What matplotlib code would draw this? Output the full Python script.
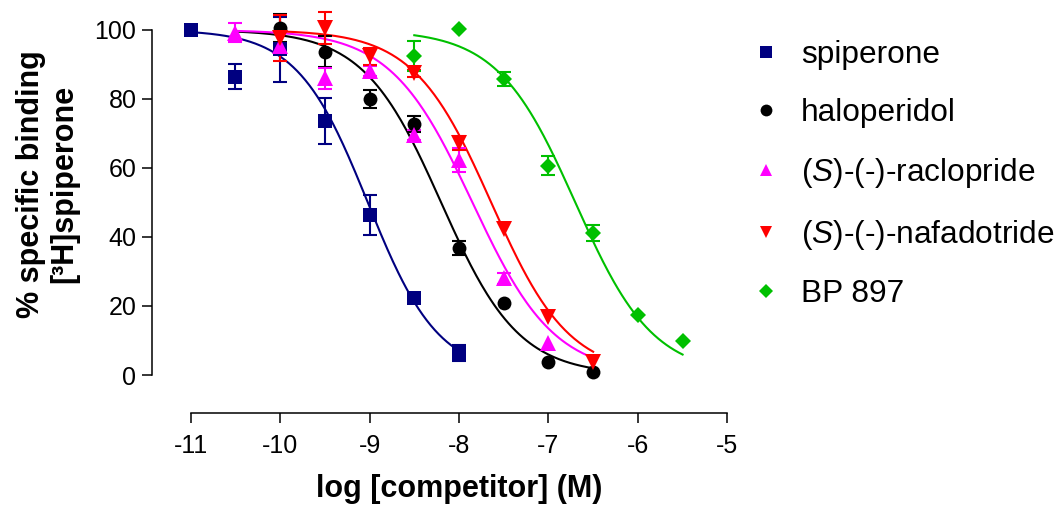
import numpy as np
import matplotlib
matplotlib.use("Agg")
import matplotlib.pyplot as plt
from matplotlib.lines import Line2D

plt.rcParams["font.family"] = ["Liberation Sans", "DejaVu Sans"]
plt.rcParams["mathtext.fontset"] = "custom"
plt.rcParams["mathtext.rm"] = "Liberation Sans"
plt.rcParams["mathtext.it"] = "Liberation Sans:italic"
plt.rcParams["axes.unicode_minus"] = False

# ---- data (log M, % specific binding, SEM) ----
names = ["spiperone", "haloperidol", r"($\mathit{S}$)-(-)-raclopride",
         r"($\mathit{S}$)-(-)-nafadotride", "BP 897"]
colors = ["#000080", "#000000", "#FF00FF", "#FF0000", "#00C000"]
markers = ["s", "o", "^", "v", "D"]
msizes = [9.5, 10, 11, 11, 8]

spip_x = [-11, -10.5, -10, -9.5, -9, -8.5, -8]
spip_y = [100, 86.4, 94.4, 73.6, 46.4, 22.4, 6.3]
spip_e = [0, 3.6, 9.4, 6.8, 5.8, 0, 2.3]

halo_x = [-10, -9.5, -9, -8.5, -8, -7.5, -7, -6.5]
halo_y = [100.5, 93.7, 79.9, 72.8, 36.7, 21, 3.9, 0.8]
halo_e = [4, 4.5, 2.6, 2.3, 2, 0, 0, 0]

racl_x = [-10.5, -10, -9.5, -9, -8.5, -8, -7.5, -7]
racl_y = [99.2, 95.2, 86, 88, 69.6, 62.3, 28, 9.2]
racl_e = [2.8, 0, 3, 1.5, 1.5, 3.6, 1.5, 0]

nafa_x = [-10, -9.5, -9, -8.5, -8, -7.5, -7, -6.5]
nafa_y = [97.7, 100.6, 92.3, 87.4, 67.2, 42.2, 16.9, 3.9]
nafa_e = [6.7, 4.7, 2.5, 1, 2, 0, 0, 0]

bp_x = [-8.5, -8, -7.5, -7, -6.5, -6, -5.5]
bp_y = [92.5, 100.2, 85.7, 60.7, 41.1, 17.4, 9.9]
bp_e = [4.3, 0, 2, 2.8, 2.4, 0, 0]

# one-site competition fits (logIC50, Hill slope) and the x-range of each fitted curve
log_ic50 = [-9.02, -8.2, -7.85, -7.64, -6.70]
hill = [1.1, 1.0, 0.95, 1.0, 1.0]
fit_start = [-11, -10.5, -10.5, -10, -8.5]
fit_end = [-8, -6.5, -6.5, -6.5, -5.5]

xs = [spip_x, halo_x, racl_x, nafa_x, bp_x]
ys = [spip_y, halo_y, racl_y, nafa_y, bp_y]
es = [spip_e, halo_e, racl_e, nafa_e, bp_e]

fig = plt.figure(figsize=(10.62, 5.08), dpi=100)
ax = fig.add_axes([151.7 / 1062, (508 - 413) / 508, (727.3 - 151.7) / 1062, 408 / 508])

for i in range(5):
    xx = np.linspace(fit_start[i], fit_end[i], 200)
    yy = 100 / (1 + 10 ** ((xx - log_ic50[i]) * hill[i]))
    ax.plot(xx, yy, color=colors[i], lw=1.5, zorder=2)
    # only draw bars where there is an SEM
    has_e = [j for j in range(len(es[i])) if es[i][j] > 0]
    ax.errorbar([xs[i][j] for j in has_e], [ys[i][j] for j in has_e],
                yerr=[es[i][j] for j in has_e], fmt="none", ecolor=colors[i],
                elinewidth=1.5, capsize=4.7, capthick=1.5, zorder=3, clip_on=False)
    ax.plot(xs[i], ys[i], ls="none", marker=markers[i], color=colors[i],
            ms=msizes[i], mew=0, zorder=4, clip_on=False)

ax.set_xlim(-11.436, -5)
ax.set_ylim(-11.0, 107.2)
ax.set_xticks(range(-11, -4))
ax.set_yticks(range(0, 101, 20))
ax.spines["top"].set_visible(False)
ax.spines["right"].set_visible(False)
ax.spines["left"].set_bounds(0, 100)
ax.spines["bottom"].set_bounds(-11, -5)
for s in ["left", "bottom"]:
    ax.spines[s].set_linewidth(1.1)
ax.tick_params(direction="out", length=7, width=1.1, labelsize=18)
ax.tick_params(axis="x", pad=8)
ax.tick_params(axis="y", pad=4)

fig.text(459 / 1062, 1 - 497 / 508, "log [competitor] (M)", ha="center",
         va="baseline", fontsize=22, fontweight="bold")
fig.text(48 / 1062, 1 - 184 / 508, "% specific binding\n[³H]spiperone", ha="center",
         va="center", rotation=90, fontsize=22, fontweight="bold", linespacing=1.15)

handles = [Line2D([], [], ls="none", marker=markers[i], color=colors[i], ms=msizes[i] * 0.85, mew=0)
           for i in range(5)]
ax.legend(handles, names, loc="upper left", bbox_to_anchor=(749.7 / 1062, 1 - 40 / 508),
          bbox_transform=fig.transFigure, frameon=False, fontsize=22.8, numpoints=1,
          handlelength=1.0, handletextpad=0.62, labelspacing=0.88, borderpad=0,
          borderaxespad=0)

fig.savefig("out.png", dpi=100)
